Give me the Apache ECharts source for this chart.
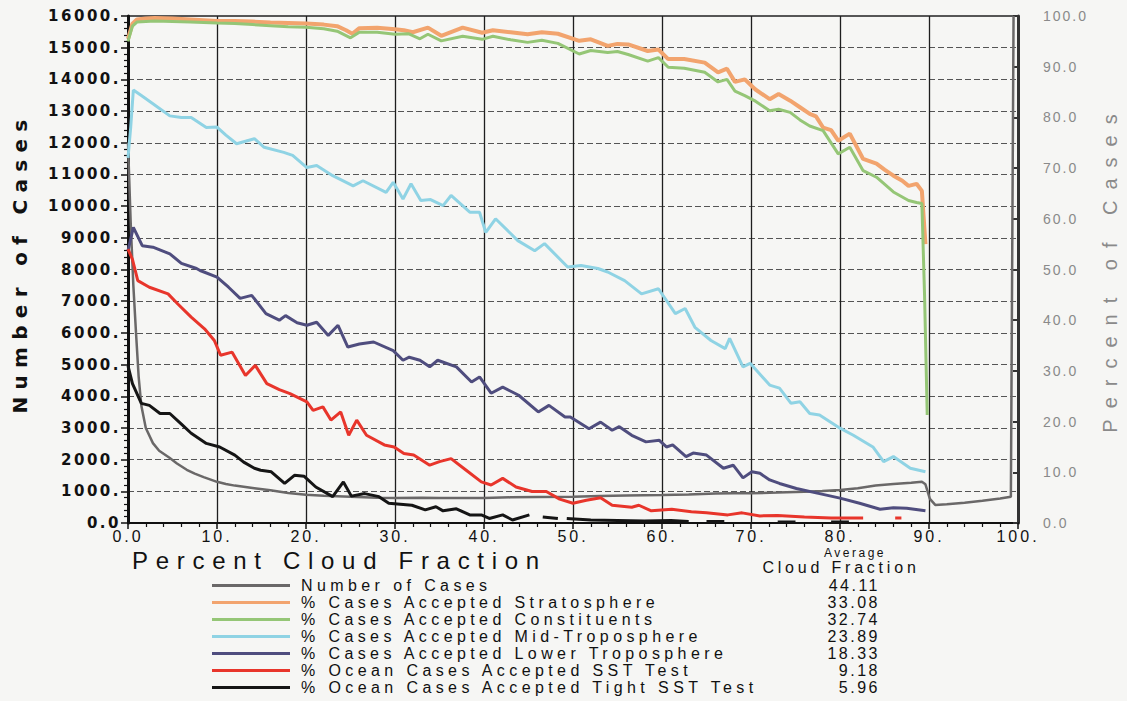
<!DOCTYPE html>
<html>
<head>
<meta charset="utf-8">
<script src="https://cdn.jsdelivr.net/npm/echarts@6/dist/echarts.min.js"></script>
<style>
html,body{margin:0;padding:0;background:#f6f6f4;}
#chart{width:1127px;height:701px;}
text[style*="ytkL"]{letter-spacing:2.5px;}
text[style*="ytkR"]{letter-spacing:2px;}
text[style*="xtkA"]{letter-spacing:3px;}
text[style*="xnmA"]{letter-spacing:7.7px;}
text[style*="ynmL"]{letter-spacing:7.3px;}
text[style*="ynmR"]{letter-spacing:11px;}
text[style*="lgdA"]{letter-spacing:4.4px;}
text[style*="avgA"]{letter-spacing:2.5px;}
text[style*="avgB"]{letter-spacing:3.8px;}
</style>
</head>
<body>
<div id="chart"></div>
<script>
// ---------------- DATA ----------------
const seriesNames = [
  'Number of Cases',
  '% Cases Accepted Stratosphere',
  '% Cases Accepted Constituents',
  '% Cases Accepted Mid-Troposphere',
  '% Cases Accepted Lower Troposphere',
  '% Ocean Cases Accepted SST Test',
  '% Ocean Cases Accepted Tight SST Test'
];
const avgCloudFraction = ['44.11', '33.08', '32.74', '23.89', '18.33', '9.18', '5.96'];

// [percent cloud fraction, number of cases]
const numberOfCases = [
  [0,12000],[0.3,9500],[0.6,7500],[0.9,6000],[1.2,4600],[1.5,3700],[2,3000],[2.8,2520],[3.5,2280],
  [4.7,2050],[5.5,1880],[6.6,1680],[7.5,1560],[8.5,1450],[10,1300],[11,1230],[12,1180],[14.2,1100],
  [16,1030],[18,950],[20,890],[22,860],[25,830],[28,800],[30,790],[33,800],[35,790],[38,790],[40,790],
  [43,810],[46,820],[50,830],[53,850],[56,870],[60,880],[63,900],[66,930],[68,940],[70,940],[73,960],
  [76,990],[78,1010],[80,1040],[82,1100],[84,1180],[86,1230],[88,1270],[89.2,1300],[89.6,1220],
  [90.1,760],[90.7,570],[92,590],[94,640],[96,700],[98,770],[99.2,830],[99.5,16000]
];
// [percent cloud fraction, percent of cases]
const pctStratosphere = [
  [0,95.5],[0.5,98.5],[1,99.3],[2,99.5],[3,99.6],[5,99.5],[7,99.3],[9,99.1],[10,99.0],[12,99.0],
  [14,98.9],[16,98.7],[18,98.6],[20,98.5],[22,98.3],[23.5,98.0],[24.5,97.2],[25.2,96.5],[26,97.6],
  [28,97.7],[30,97.4],[31,97.2],[32,96.8],[33.7,97.7],[35.2,96.1],[37.6,97.7],[39.8,96.7],[41,97.2],
  [43,96.8],[44.9,96.4],[46.5,96.8],[48.3,96.5],[50.7,95.1],[52,95.4],[53.9,94.1],[55,94.5],
  [56.2,94.4],[58.4,93.1],[59.6,93.4],[60.7,91.5],[62.5,91.5],[64.8,90.8],[66.3,88.9],[67.3,89.6],
  [68.2,87.0],[69.3,87.5],[70.5,85.5],[72.1,83.6],[73.1,84.6],[74.4,83.3],[75.5,82.0],[76.6,80.7],
  [77.3,80.2],[78.1,78.0],[79,77.5],[79.8,75.4],[81.1,76.8],[82.6,71.8],[84.1,70.9],[85,69.7],
  [86,68.5],[87,67.5],[87.7,66.5],[88.6,66.9],[89.2,65.5],[89.6,55]
];
const pctConstituents = [
  [0,95],[0.5,98],[1,98.8],[3,99.0],[5,98.9],[7,98.8],[10,98.6],[12,98.5],[14,98.3],[16,98.1],
  [18,97.9],[20,97.8],[22,97.5],[23.5,97.0],[25,95.7],[26,96.8],[28,96.8],[30,96.4],[31.5,96.5],
  [32.8,95.5],[33.7,96.4],[35.2,95.1],[37.6,96.0],[39.8,95.4],[41,96.0],[43,95.3],[44.9,94.8],
  [46.5,95.2],[48.3,94.6],[50.7,92.5],[52,93.2],[53.9,92.8],[55,93.0],[56.2,92.4],[58.4,91.1],
  [59.6,91.8],[60.7,89.9],[62.5,89.7],[64.8,88.9],[66.3,87.0],[67.3,87.5],[68.2,85.2],[69.3,84.3],
  [70.5,83.2],[72.1,81.3],[73.1,81.6],[74.4,81.0],[75.5,79.5],[76.6,78.3],[78.1,77.4],[79.8,72.8],
  [81.1,74.1],[82.6,69.5],[84.1,68.2],[86,65.3],[87.7,63.6],[88.6,63.2],[89.2,63.0],[89.5,45],[89.8,21.3]
];
const pctMidTroposphere = [
  [0,72],[0.3,78],[0.6,85.4],[1.5,84.3],[2.8,82.7],[4.7,80.3],[6,80],[7.1,80],[8.8,78],[10,78.1],
  [11,76.5],[12.2,74.8],[14.2,75.8],[15.3,74.1],[17.5,73.1],[18.5,72.5],[20.1,70.1],[21.2,70.5],
  [23,68.5],[25.3,66.5],[26.4,67.5],[29,65.2],[29.8,67.2],[30.9,63.9],[31.8,66.9],[32.9,63.6],
  [34,63.8],[35.4,62.6],[36.3,64.6],[38.4,61.3],[39.5,61.3],[40.2,57.3],[41.3,60],[43.8,55.7],
  [45.7,53.7],[46.8,55.1],[49.4,50.5],[50.9,50.8],[52.8,50.2],[53.9,49.5],[55.8,47.8],[57.7,45.2],
  [59.6,46.2],[61.5,41.3],[62.6,42.3],[63.7,38.6],[65.5,36],[67.1,34.4],[67.6,36.4],[69.1,30.8],
  [69.9,31.5],[72.1,27.2],[73.2,26.6],[74.5,23.6],[75.5,23.9],[76.6,21.6],[77.7,21.3],[80,18.7],
  [81.5,17.3],[83.7,15],[84.9,12.1],[86,13.1],[87.9,10.8],[89.6,10.1]
];
const pctLowerTroposphere = [
  [0,53.7],[0.6,58.3],[1.6,54.7],[2.8,54.4],[4.7,53.1],[6,51.2],[7.7,50.2],[8.1,49.8],[10,48.5],
  [11.3,46.5],[12.6,44.3],[13.9,44.9],[15.5,41.3],[17,40],[17.7,40.9],[19,39.5],[20.1,39],[21.2,39.6],
  [22.5,37],[23.6,39],[24.7,34.7],[26,35.3],[27.6,35.7],[29.8,34],[30.9,32.1],[31.6,32.7],[32.8,32.1],
  [33.9,30.8],[34.8,32.1],[36.9,30.8],[38.6,27.8],[39.5,28.8],[40.8,25.6],[42.1,26.8],[43.9,25.2],
  [46.1,21.9],[47.3,23.2],[49.1,20.9],[49.7,20.9],[51.8,18.6],[53.1,19.9],[54.4,18.3],[55.2,19.0],
  [56.6,17.3],[58.2,16],[59.7,16.3],[60.5,15],[61.2,15.4],[62.7,13.1],[63.5,13.8],[65,13.4],
  [66.9,10.8],[68,11.4],[69.1,8.9],[70.1,10.1],[71,9.8],[72.1,8.5],[73.2,7.8],[75.1,6.8],[77.7,5.8],
  [80,4.9],[82.2,3.9],[84.5,2.7],[86,3.0],[87.5,2.9],[89.6,2.4]
];
const pctOceanSST = [
  [0,54],[0.5,52],[1.1,47.8],[2.4,46.5],[4.5,45.2],[5.6,43.2],[7.1,40.6],[8.6,38.3],[9.7,36],
  [10.4,33.1],[11.7,33.7],[13.2,29.1],[14.3,31.1],[15.6,27.5],[17,26.3],[18.2,25.5],[20.1,23.9],
  [20.8,22.2],[21.9,22.9],[22.8,20.3],[23.9,21.9],[24.8,17.3],[25.7,20.3],[26.8,17.3],[28.8,15.4],
  [29.9,15],[31,13.7],[32.1,13.4],[33.9,11.4],[35,12.1],[36.3,12.7],[38,10.4],[39.7,8.1],[40.8,7.5],
  [42.1,8.8],[43.6,7.1],[45.4,6.2],[47,6.2],[48.5,4.7],[50,3.9],[51.5,4.5],[53.1,5.0],[54.4,3.5],
  [56.6,3.1],[57.4,3.5],[58.8,2.4],[61.1,2.7],[63.3,2.2],[65,2.0],[67.4,1.6],[69,2.0],[71,1.4],
  [73,1.5],[76,1.2],[79,1.0],[82.6,1.0],[83,null],[86.2,1.0],[86.9,1.0],[87.2,null]
];
const pctOceanTightSST = [
  [0,31],[0.5,27.5],[1.5,23.6],[2.4,23.2],[3.6,21.6],[4.7,21.6],[6,19.5],[7.1,17.7],[8.8,15.7],
  [10.3,15],[12,13.4],[13,12],[14.2,10.8],[14.9,10.4],[16.1,10.1],[17.6,7.8],[18.7,9.4],[19.8,9.2],
  [21.1,7.1],[23,5.2],[24.2,8.1],[25.1,5.3],[26.6,5.8],[28.2,5.2],[29.3,3.9],[31.9,3.5],[33.4,2.6],
  [34.6,3.2],[35.4,2.4],[36.9,2.8],[38.4,1.6],[39.7,1.6],[40.6,0.9],[42.1,1.6],[43.2,0.6],[45.1,1.6],
  [45.5,null],[46.6,1.2],[48.3,0.9],[48.6,null],[49.3,0.9],[52,0.6],[55,0.5],[58,0.4],[61,0.5],
  [63,0.3],[63.5,null],[65,0.3],[67,0.3],[67.5,null],[73,0.2],[75,0.2],[75.5,null],[79,0.2],[81,0.2]
];

// ---------------- STYLE ----------------
const colors = ['#6a6868', '#f2a46e', '#95c676', '#8fd3e4', '#4f4d7e', '#e8352b', '#151515'];
const widths = [2.5, 4, 3, 3, 3, 3, 3];
const dataSets = [numberOfCases, pctStratosphere, pctConstituents, pctMidTroposphere,
                  pctLowerTroposphere, pctOceanSST, pctOceanTightSST];

const chart = echarts.init(document.getElementById('chart'), null, {renderer: 'svg'});

const series = dataSets.map((d, i) => ({
  name: seriesNames[i],
  type: 'line',
  yAxisIndex: i === 0 ? 0 : 1,
  data: d,
  symbol: 'none',
  connectNulls: false,
  animation: false,
  lineStyle: {color: colors[i], width: widths[i]},
  itemStyle: {color: colors[i]},
  z: 3 + i
}));

const avgTexts = avgCloudFraction.map((v, i) => ({
  type: 'text', x: 880, y: 585 + i * 17,
  style: {text: v, align: 'right', verticalAlign: 'middle', fill: '#111',
          font: "16px avgA, 'Liberation Sans Narrow', 'Liberation Sans', sans-serif"}
}));

chart.setOption({
  backgroundColor: '#f6f6f4',
  animation: false,
  grid: {left: 128, right: 109, top: 16, bottom: 178, show: true,
         borderColor: '#222', borderWidth: 1.5, containLabel: false},
  xAxis: {
    type: 'value', min: 0, max: 100, interval: 10,
    axisLine: {show: true, onZero: false, lineStyle: {color: '#111', width: 2}},
    axisTick: {show: true, length: 6, lineStyle: {color: '#111', width: 1.5}},
    minorTick: {show: true, splitNumber: 5, length: 4, lineStyle: {color: '#111', width: 1.2}},
    splitLine: {show: true, lineStyle: {color: '#1e1e1e', width: 1.3}},
    axisLabel: {color: '#111', fontSize: 16, margin: 5,
                fontFamily: "xtkA, 'Liberation Sans', sans-serif",
                formatter: v => v === 0 ? '0.0' : v + '.'}
  },
  yAxis: [
    {
      type: 'value', min: 0, max: 16000, interval: 1000, position: 'left',
      axisLine: {show: true, lineStyle: {color: '#111', width: 3}},
      axisTick: {show: true, length: 7, lineStyle: {color: '#111', width: 1.5}},
      minorTick: {show: true, splitNumber: 5, length: 4, lineStyle: {color: '#111', width: 1.2}},
      splitLine: {show: true, lineStyle: {color: '#555', width: 1, type: [6, 3]}},
      axisLabel: {color: '#111', fontSize: 15, fontWeight: 'bold', margin: 7,
                  fontFamily: "ytkL, 'DejaVu Sans', sans-serif",
                  formatter: v => v === 0 ? '0.0' : v + '.'}
    },
    {
      type: 'value', min: 0, max: 100, interval: 10, position: 'right',
      axisLine: {show: true, lineStyle: {color: '#333', width: 3}},
      axisTick: {show: true, length: 5, inside: true, lineStyle: {color: '#333', width: 2}},
      splitLine: {show: false},
      axisLabel: {color: '#8a8a8a', fontSize: 14, margin: 25,
                  fontFamily: "ytkR, 'Liberation Sans', sans-serif",
                  formatter: v => v.toFixed(1)}
    }
  ],
  legend: {
    orient: 'vertical', left: 212, top: 577, height: 130, padding: 0,
    data: seriesNames, icon: 'rect', itemWidth: 78, itemHeight: 3, itemGap: 0,
    selectedMode: false,
    textStyle: {color: '#111', fontSize: 16, lineHeight: 17, padding: [0, 0, 0, 6],
                fontFamily: "lgdA, 'Liberation Sans Narrow', 'Liberation Sans', sans-serif"}
  },
  graphic: [
    {type: 'text', x: 20, y: 263, rotation: Math.PI / 2,
     style: {text: 'Number of Cases', align: 'center', verticalAlign: 'middle', fill: '#111',
             font: "bold 20px ynmL, 'DejaVu Sans', sans-serif"}},
    {type: 'text', x: 1110, y: 268, rotation: Math.PI / 2,
     style: {text: 'Percent of Cases', align: 'center', verticalAlign: 'middle', fill: '#8a8a8a',
             font: "20px ynmR, 'Liberation Sans', sans-serif"}},
    {type: 'text', x: 132, y: 560,
     style: {text: 'Percent Cloud Fraction', align: 'left', verticalAlign: 'middle', fill: '#111',
             font: "24px xnmA, 'Liberation Sans', sans-serif"}},
    {type: 'text', x: 855, y: 553,
     style: {text: 'Average', align: 'center', verticalAlign: 'middle', fill: '#111',
             font: "12px avgA, 'Liberation Sans Narrow', 'Liberation Sans', sans-serif"}},
    {type: 'text', x: 841, y: 567,
     style: {text: 'Cloud Fraction', align: 'center', verticalAlign: 'middle', fill: '#111',
             font: "16px avgB, 'Liberation Sans Narrow', 'Liberation Sans', sans-serif"}}
  ].concat(avgTexts),
  series: series
});
</script>
</body>
</html>
